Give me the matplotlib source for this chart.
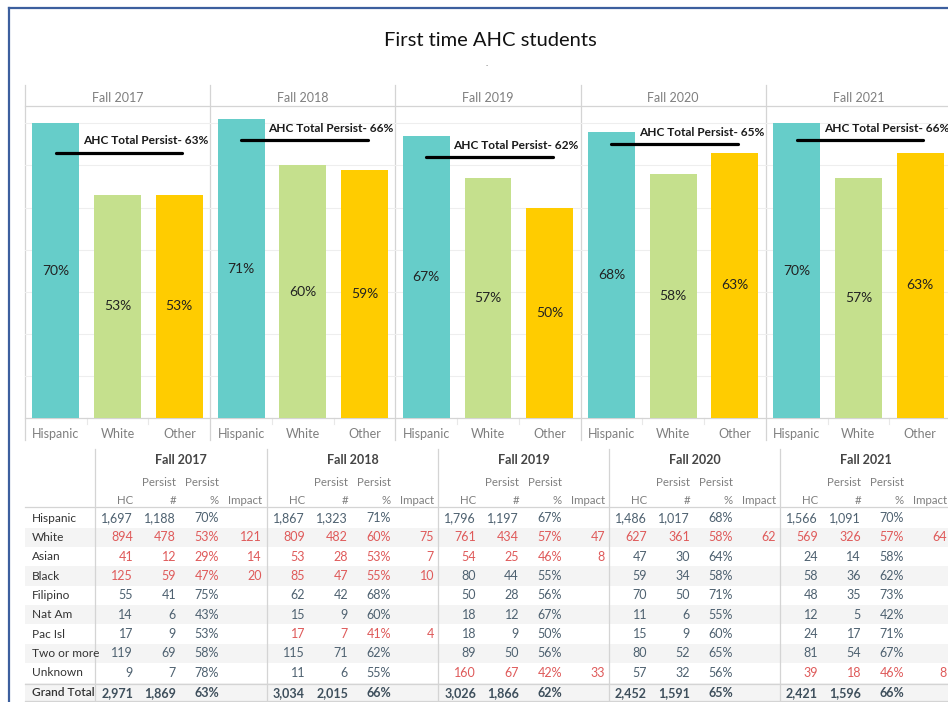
import matplotlib.pyplot as plt

plt.rcParams['font.family'] = ['Lato', 'DejaVu Sans']

# ---- chart data ----
terms = ['Fall 2017', 'Fall 2018', 'Fall 2019', 'Fall 2020', 'Fall 2021']
groups = ['Hispanic', 'White', 'Other']
hispanic_pct = [70, 71, 67, 68, 70]
white_pct = [53, 60, 57, 58, 57]
other_pct = [53, 59, 50, 63, 63]
total_pct = [63, 66, 62, 65, 66]

# ---- table data (one inner list per term) ----
races = ['Hispanic', 'White', 'Asian', 'Black', 'Filipino', 'Nat Am',
         'Pac Isl', 'Two or more', 'Unknown']
hc = [
    [1697, 894, 41, 125, 55, 14, 17, 119, 9],
    [1867, 809, 53, 85, 62, 15, 17, 115, 11],
    [1796, 761, 54, 80, 50, 18, 18, 89, 160],
    [1486, 627, 47, 59, 70, 11, 15, 80, 57],
    [1566, 569, 24, 58, 48, 12, 24, 81, 39],
]
persist_n = [
    [1188, 478, 12, 59, 41, 6, 9, 69, 7],
    [1323, 482, 28, 47, 42, 9, 7, 71, 6],
    [1197, 434, 25, 44, 28, 12, 9, 50, 67],
    [1017, 361, 30, 34, 50, 6, 9, 52, 32],
    [1091, 326, 14, 36, 35, 5, 17, 54, 18],
]
persist_pct = [
    [70, 53, 29, 47, 75, 43, 53, 58, 78],
    [71, 60, 53, 55, 68, 60, 41, 62, 55],
    [67, 57, 46, 55, 56, 67, 50, 56, 42],
    [68, 58, 64, 58, 71, 55, 60, 65, 56],
    [70, 57, 58, 62, 73, 42, 71, 67, 46],
]
impact = [
    [None, 121, 14, 20, None, None, None, None, None],
    [None, 75, 7, 10, None, None, 4, None, None],
    [None, 47, 8, None, None, None, None, None, 33],
    [None, 62, None, None, None, None, None, None, None],
    [None, 64, None, None, None, None, None, None, 8],
]
hc_total = [2971, 3034, 3026, 2452, 2421]
n_total = [1869, 2015, 1866, 1591, 1596]
pct_total = [63, 66, 62, 65, 66]

colors = ['#66cdc9', '#c5e08d', '#ffcc00']
gray = '#7f7f7f'
line_gray = '#d4d4d4'
num_blue = '#4e6170'
red = '#df5a5a'

W, H = 948, 702
fig = plt.figure(figsize=(W / 100, H / 100), dpi=100)

# background axes in pixel coordinates
bg = fig.add_axes([0, 0, 1, 1], zorder=0)
bg.set_xlim(0, W)
bg.set_ylim(H, 0)
bg.axis('off')

# frame
bg.plot([9.5, 9.5], [8, H], color='#3c5f9e', lw=1.6)
bg.plot([9, W], [8, 8], color='#3c5f9e', lw=1.6)

bg.text(490, 40, 'First time AHC students', ha='center', va='center',
        fontsize=14.5, color='#111111')
bg.text(487, 63, '..', ha='center', va='center', fontsize=5, color='#999999')

# ---- bar panels ----
panel_w = 185.2
x0, y_top, y_base = 25, 106, 418
px_per_pct = 4.21
for i, term in enumerate(terms):
    left = x0 + i * panel_w
    ax = fig.add_axes([left / W, (H - y_base) / H, panel_w / W,
                       (y_base - y_top) / H], zorder=1)
    ax.patch.set_alpha(0)
    vals = [hispanic_pct[i], white_pct[i], other_pct[i]]
    ax.bar(range(3), vals, width=0.76, color=colors, zorder=2)
    for k, v in enumerate(vals):
        ax.text(k, v / 2, f'{v}%', ha='center', va='center', fontsize=10,
                color='#222222', zorder=3)
    t = total_pct[i]
    ax.plot([0, 2.05], [t, t], color='black', lw=2.3, solid_capstyle='round',
            zorder=4)
    ax.text(0.44, t + 2.8, f'AHC Total Persist- {t}%', ha='left', va='center',
            fontsize=8.6, fontweight='bold', color='#1a1a1a', zorder=4,
            clip_on=False)
    ax.set_xlim(-0.5, 2.5)
    ax.set_ylim(0, (y_base - y_top) / px_per_pct)
    ax.set_yticks(range(10, 80, 10))
    ax.yaxis.grid(True, color='#eeeeee', lw=0.8, zorder=0)
    ax.tick_params(axis='y', left=False, labelleft=False)
    ax.set_xticks(range(3))
    ax.set_xticklabels(groups, fontsize=9, color=gray)
    ax.tick_params(axis='x', length=0, pad=7)
    for s in ax.spines.values():
        s.set_visible(False)
    ax.set_title(term, fontsize=9, color=gray, pad=3)
    for k in range(1, 3):
        xs = left + k * panel_w / 3
        bg.plot([xs, xs], [y_base, y_base + 6], color='#e8e8e8', lw=0.8)

for i in range(len(terms) + 1):
    xs = x0 + i * panel_w
    bg.plot([xs, xs], [85, 440], color=line_gray, lw=0.9)
bg.plot([x0, W], [y_top, y_top], color=line_gray, lw=0.9)
bg.plot([x0, W], [y_base, y_base], color=line_gray, lw=0.9)

# ---- table ----
block_left = [95, 267, 438, 609, 780]
col_right = [38, 81, 124, 167]
row_h = 19.35
row_y = [518 + k * row_h for k in range(len(races))]
total_y = 693

for k, y in enumerate(row_y):
    if k % 2 == 1:
        bg.fill_between([x0, W], y - row_h / 2, y + row_h / 2,
                        color='#f4f4f4', lw=0, zorder=0)
bg.fill_between([x0, W], total_y - row_h / 2, H, color='#f4f4f4', lw=0,
                zorder=0)
bg.plot([x0, W], [507, 507], color=line_gray, lw=0.9)
bg.plot([x0, W], [683.5, 683.5], color=line_gray, lw=0.9)
bg.plot([x0, W], [701, 701], color=line_gray, lw=0.9)
for bl in block_left:
    bg.plot([bl, bl], [449, H], color=line_gray, lw=0.9)

for k, race in enumerate(races):
    bg.text(32, row_y[k], race, ha='left', va='center', fontsize=8.6,
            color='#333333')
bg.text(32, total_y, 'Grand Total', ha='left', va='center', fontsize=8.6,
        color='#333333', fontweight='semibold')

for i, term in enumerate(terms):
    bl = block_left[i]
    bg.text(bl + 85.5, 460, term, ha='center', va='center', fontsize=9,
            fontweight='bold', color='#444444')
    bg.text(bl + col_right[1], 483, 'Persist', ha='right', va='center',
            fontsize=8.3, color=gray)
    bg.text(bl + col_right[2], 483, 'Persist', ha='right', va='center',
            fontsize=8.3, color=gray)
    for c, lab in enumerate(['HC', '#', '%', 'Impact']):
        bg.text(bl + col_right[c], 500, lab, ha='right', va='center',
                fontsize=8.3, color=gray)
    for k in range(len(races)):
        col = red if impact[i][k] is not None else num_blue
        cells = [f'{hc[i][k]:,}', f'{persist_n[i][k]:,}',
                 f'{persist_pct[i][k]}%',
                 '' if impact[i][k] is None else f'{impact[i][k]}']
        for c, s in enumerate(cells):
            bg.text(bl + col_right[c], row_y[k], s, ha='right', va='center',
                    fontsize=9, color=col)
    tot = [f'{hc_total[i]:,}', f'{n_total[i]:,}', f'{pct_total[i]}%']
    for c, s in enumerate(tot):
        bg.text(bl + col_right[c], total_y, s, ha='right', va='center',
                fontsize=9, color='#3e4f5c', fontweight='bold')

fig.savefig('out.png', dpi=100)
